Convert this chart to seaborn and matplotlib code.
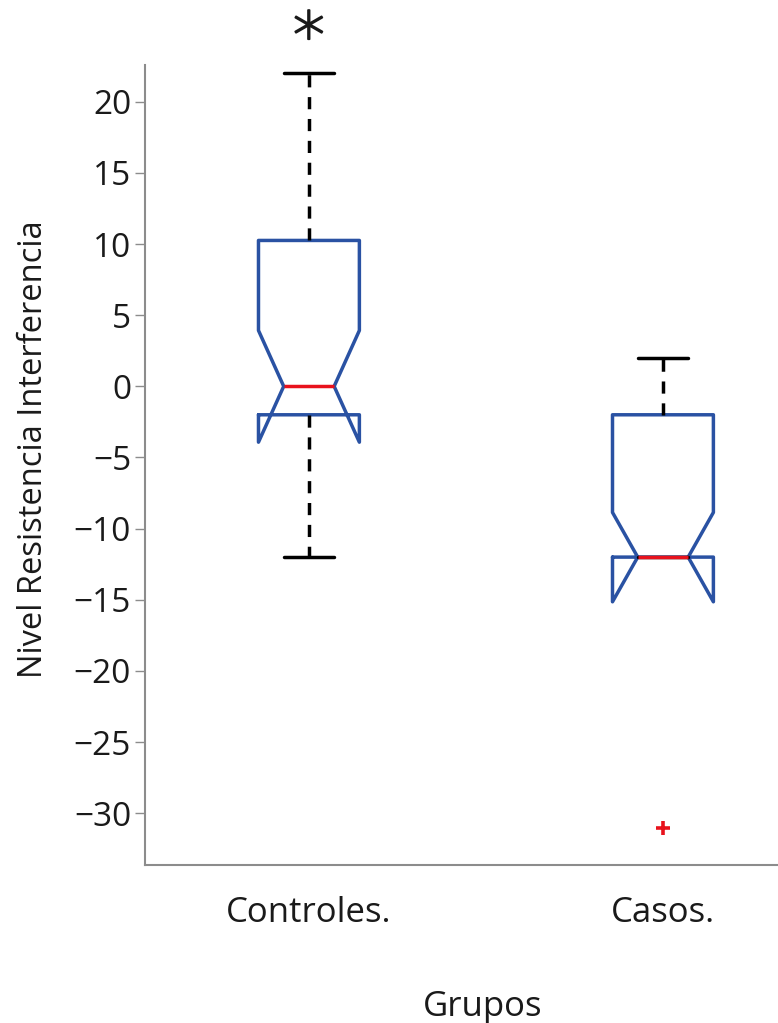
import numpy as np
import pandas as pd
import matplotlib as mpl
import matplotlib.pyplot as plt
import matplotlib.patheffects as pe
import seaborn as sns

controles = [-12, -8, -6, -5, -3, -2, -2, -1, -1, 0, 0, 0,
             0, 2, 4, 6, 8, 10, 11, 12, 14, 15, 18, 22]
casos = [-31, -12, -12, -12, -12, -12, -12, -12, -12, -12, -12, -12,
         -12, -11, -10, -8, -6, -4, -2, -2, -1, 0, 0, 1, 2]
group_names = ["Controles.", "Casos."]
y_ticks = [20, 15, 10, 5, 0, -5, -10, -15, -20, -25, -30]

BOX_BLUE = "#2a52a3"
SPINE_GRAY = "#8c8c8c"

sns.set_theme(style="ticks")
mpl.rcParams["font.family"] = ["Open Sans", "DejaVu Sans"]
mpl.rcParams["axes.unicode_minus"] = True

df = pd.DataFrame({
    "Grupos": [group_names[0]] * len(controles) + [group_names[1]] * len(casos),
    "Nivel": controles + casos,
})

fig = plt.figure(figsize=(7.78, 10.23), dpi=100)
ax = fig.add_axes([0.1864, 0.1545, 0.8136, 0.782])

sns.boxplot(
    data=df,
    x="Grupos",
    y="Nivel",
    order=group_names,
    fill=False,
    color=BOX_BLUE,
    width=0.285,
    linewidth=2.5,
    notch=True,
    ax=ax,
    medianprops=dict(color="#e8121c"),
    whiskerprops=dict(color="black", linestyle=(0, (3.5, 2.8))),
    capprops=dict(color="black"),
    flierprops=dict(marker="+", markeredgecolor="#e8121c", markersize=10,
                    markeredgewidth=2.6),
)

ax.set_xlim(-0.463, 1.325)
ax.set_ylim(-33.63, 22.58)
ax.set_yticks(y_ticks)

sns.despine(ax=ax)
for side in ["left", "bottom"]:
    ax.spines[side].set_color(SPINE_GRAY)
    ax.spines[side].set_linewidth(1.5)

ax.tick_params(axis="y", length=7, width=1, color=SPINE_GRAY, pad=3,
               labelsize=24, labelcolor="#1a1a1a")
ax.tick_params(axis="x", length=0, pad=22, labelsize=25, labelcolor="#1a1a1a")

ax.set_ylabel("Nivel Resistencia Interferencia", fontsize=23.5, color="#1a1a1a")
ax.set_xlabel("Grupos", fontsize=25, color="#1a1a1a")
ax.yaxis.set_label_coords(-0.15, 0.52)
ax.xaxis.set_label_coords(0.534, -0.156)

# significance mark above the control group
ax.text(0, 25.25, "\u2217", ha="center", va="center", fontsize=46,
        color="#1a1a1a", family="DejaVu Sans", fontweight="light",
        clip_on=False,
        path_effects=[pe.withStroke(linewidth=1.3, foreground="#1a1a1a")])

fig.savefig("out.png", dpi=100)
